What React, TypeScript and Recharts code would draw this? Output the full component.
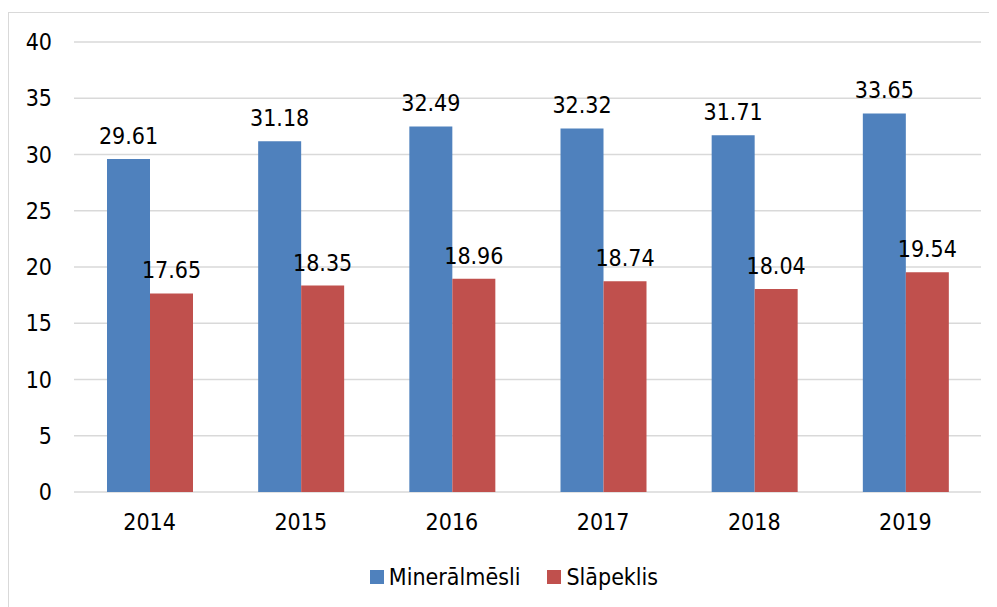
import React from 'react';
import { BarChart, Bar, XAxis, YAxis, CartesianGrid, Legend, LabelList } from 'recharts';

const years = ['2014', '2015', '2016', '2017', '2018', '2019'];
const mineralmesli = [29.61, 31.18, 32.49, 32.32, 31.71, 33.65];
const slapeklis = [17.65, 18.35, 18.96, 18.74, 18.04, 19.54];
const yTicks = [0, 5, 10, 15, 20, 25, 30, 35, 40];
const seriesNames = ['Minerālmēsli', 'Slāpeklis'];
const colors = ['#4F81BD', '#C0504D'];

const data = years.map((y, i) => ({ year: y, a: mineralmesli[i], b: slapeklis[i] }));

const FONT = "'DejaVu Sans Condensed', 'DejaVu Sans', sans-serif";
const FS = 23;

const LegendContent = () => (
  <div style={{ display: 'flex', justifyContent: 'center', alignItems: 'center', height: 30, paddingLeft: 38, boxSizing: 'border-box', fontFamily: FONT, fontStretch: 'condensed', fontSize: FS, color: '#000' }}>
    {seriesNames.map((n, i) => (
      <div key={n} style={{ display: 'flex', alignItems: 'center', marginRight: i === 0 ? 27 : 0 }}>
        <div style={{ width: 14, height: 14, background: colors[i], marginRight: 5 }} />
        <span>{n}</span>
      </div>
    ))}
  </div>
);

export default function App() {
  return (
    <div style={{ marginTop: 4, width: 1000, height: 600, border: '1px solid #d9d9d9', boxSizing: 'content-box', background: '#fff' }}>
      <BarChart
        width={990}
        height={600}
        data={data}
        margin={{ top: 29, right: 18, bottom: 21, left: 0 }}
        barGap={0}
        style={{ fontFamily: FONT, fontStretch: 'condensed' }}
      >
        <CartesianGrid vertical={false} stroke="#d9d9d9" strokeWidth={1.5} />
        <XAxis
          dataKey="year"
          axisLine={false}
          tickLine={false}
          tickSize={0}
          tickMargin={22}
          height={70}
          tick={{ fill: '#000', fontSize: FS, fontFamily: FONT }}
        />
        <YAxis
          domain={[0, 40]}
          ticks={yTicks}
          axisLine={false}
          tickLine={false}
          tickSize={0}
          tickMargin={22}
          width={65}
          tick={{ fill: '#000', fontSize: FS, fontFamily: FONT }}
        />
        <Legend verticalAlign="bottom" height={30} content={<LegendContent />} />
        <Bar dataKey="a" name={seriesNames[0]} fill={colors[0]} barSize={43} isAnimationActive={false}>
          <LabelList dataKey="a" position="top" offset={15} fill="#000" fontSize={FS} fontFamily={FONT} formatter={(v: number) => v.toFixed(2)} />
        </Bar>
        <Bar dataKey="b" name={seriesNames[1]} fill={colors[1]} barSize={43} isAnimationActive={false}>
          <LabelList dataKey="b" position="top" offset={15} fill="#000" fontSize={FS} fontFamily={FONT} formatter={(v: number) => v.toFixed(2)} />
        </Bar>
      </BarChart>
    </div>
  );
}
